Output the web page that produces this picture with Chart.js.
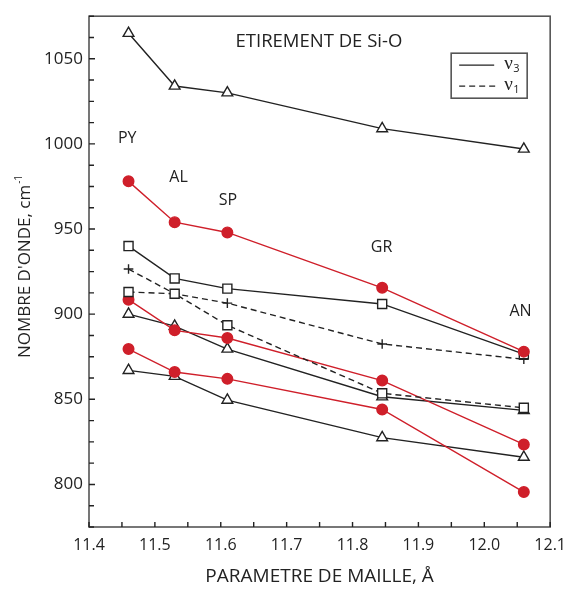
<!DOCTYPE html>
<html>
<head>
<meta charset="utf-8">
<script src="https://cdn.jsdelivr.net/npm/chart.js@4.4.1/dist/chart.umd.min.js"></script>
<style>
  html, body { margin: 0; padding: 0; background: #fff; }
</style>
</head>
<body>
<canvas id="garnetChart" width="575" height="590"></canvas>
<script>
// lattice parameter (A) of each garnet end-member
const cellParam = [11.46, 11.53, 11.61, 11.845, 12.06];
const garnetNames = ['PY', 'AL', 'SP', 'GR', 'AN'];

// wavenumbers (cm-1), PY -> AN
const triTop   = [1065, 1034, 1030, 1009, 997];
const redTop   = [978, 954, 948, 915.5, 878];
const sqSolid  = [940, 921, 915, 906, 876.5];
const plusDash = [926.5, 912, 906.5, 882.5, 873.5];
const sqDash   = [913, 912, 893.5, 853.5, 845];
const redMid   = [908.5, 890.5, 886, 861, 823.5];
const triMid   = [900, 893, 879.5, 851.5, 843.5];
const redLow   = [879.5, 866, 862, 844, 795.5];
const triLow   = [867, 863.5, 849.5, 827.5, 816];

// labelled axis ticks
const xTicks = [11.4, 11.5, 11.6, 11.7, 11.8, 11.9, 12.0, 12.1];
const yTicks = [800, 850, 900, 950, 1000, 1050];
// unlabelled inner tick marks
const xMinor = [11.45, 11.55, 11.65, 11.75, 11.85, 11.95, 12.05];
const yMinor = [775, 787.5, 812.5, 825, 837.5, 862.5, 875, 887.5, 912.5, 925, 937.5, 962.5,
                975, 987.5, 1012.5, 1025, 1037.5, 1062.5, 1075];

// where the end-member names sit (data coords)
const nameX = [11.458, 11.536, 11.611, 11.844, 12.055];
const nameY = [1003, 980.5, 967, 939, 901.5];

const BLACK = '#222';
const RED = '#cf1f2a';
const FONT = "'Open Sans', 'DejaVu Sans', sans-serif";

function toPoints(values) {
    return values.map((v, i) => ({ x: cellParam[i], y: v }));
}

function series(values, kind, dashed) {
    const isRed = kind === 'circle';
    const color = isRed ? RED : BLACK;
    const styles = { triangle: ['triangle', 6.2], rect: ['rect', 6.4], cross: ['cross', 4.8], circle: ['circle', 5.3] };
    return {
        data: toPoints(values),
        borderColor: color,
        borderWidth: 1.4,
        borderDash: dashed ? [6, 4] : [],
        pointStyle: styles[kind][0],
        pointRadius: styles[kind][1],
        pointBorderColor: color,
        pointBackgroundColor: isRed ? RED : '#fff',
        pointBorderWidth: 1.4,
        tension: 0,
        fill: false
    };
}

const axisDecor = {
    id: 'axisDecor',
    afterDraw(chart) {
        const ctx = chart.ctx;
        const a = chart.chartArea;
        const x = chart.scales.x, y = chart.scales.y;
        ctx.save();
        ctx.setLineDash([]);

        // frame
        ctx.strokeStyle = '#555';
        ctx.lineWidth = 1.6;
        ctx.strokeRect(a.left, a.top, a.right - a.left, a.bottom - a.top);

        // inner tick marks
        ctx.strokeStyle = BLACK;
        ctx.lineWidth = 1.4;
        ctx.beginPath();
        yTicks.forEach(v => {
            const py = y.getPixelForValue(v);
            ctx.moveTo(a.left, py);
            ctx.lineTo(a.left + 6, py);
        });
        yMinor.forEach(v => {
            const py = y.getPixelForValue(v);
            ctx.moveTo(a.left, py);
            ctx.lineTo(a.left + 5, py);
        });
        xTicks.concat(xMinor).forEach(v => {
            const px = x.getPixelForValue(v);
            ctx.moveTo(px, a.bottom);
            ctx.lineTo(px, a.bottom - 5);
        });
        ctx.stroke();

        // y axis title, with superscript
        ctx.fillStyle = BLACK;
        ctx.textBaseline = 'alphabetic';
        ctx.textAlign = 'left';
        ctx.font = '17px ' + FONT;
        const main = "NOMBRE D'ONDE, cm";
        const wMain = ctx.measureText(main).width;
        ctx.font = '10px ' + FONT;
        const wSup = ctx.measureText('-1').width;
        ctx.translate(30, 267);
        ctx.rotate(-Math.PI / 2);
        const start = -(wMain + wSup) / 2;
        ctx.font = '17px ' + FONT;
        ctx.fillText(main, start, 0);
        ctx.font = '10px ' + FONT;
        ctx.fillText('-1', start + wMain + 1, -8);
        ctx.setTransform(1, 0, 0, 1, 0, 0);

        // title + end-member names
        ctx.textAlign = 'center';
        ctx.textBaseline = 'middle';
        ctx.font = '18.5px ' + FONT;
        ctx.fillText('ETIREMENT DE Si-O', x.getPixelForValue(11.749), y.getPixelForValue(1060));
        ctx.font = '16px ' + FONT;
        garnetNames.forEach((n, i) => {
            ctx.fillText(n, x.getPixelForValue(nameX[i]), y.getPixelForValue(nameY[i]));
        });

        // legend
        const lx = a.right - 99, ly = a.top + 37;
        ctx.strokeStyle = '#555';
        ctx.lineWidth = 1.6;
        ctx.strokeRect(lx, ly, 76, 45);
        ctx.strokeStyle = BLACK;
        ctx.lineWidth = 1.3;
        ctx.beginPath();
        ctx.moveTo(lx + 8, ly + 12);
        ctx.lineTo(lx + 43, ly + 12);
        ctx.stroke();
        ctx.setLineDash([6, 4]);
        ctx.beginPath();
        ctx.moveTo(lx + 8, ly + 33);
        ctx.lineTo(lx + 45, ly + 33);
        ctx.stroke();
        ctx.setLineDash([]);
        ctx.textAlign = 'left';
        ctx.font = "19px 'Liberation Serif', serif";
        ctx.fillText('\u03bd', lx + 53, ly + 11);
        ctx.fillText('\u03bd', lx + 53, ly + 32);
        ctx.font = '11px ' + FONT;
        ctx.fillText('3', lx + 62, ly + 16);
        ctx.fillText('1', lx + 62, ly + 37);

        ctx.restore();
    }
};

new Chart(document.getElementById('garnetChart'), {
    type: 'line',
    data: {
        datasets: [
            series(triTop, 'triangle', false),
            series(redTop, 'circle', false),
            series(sqSolid, 'rect', false),
            series(sqDash, 'rect', true),
            series(plusDash, 'cross', true),
            series(redMid, 'circle', false),
            series(triMid, 'triangle', false),
            series(redLow, 'circle', false),
            series(triLow, 'triangle', false)
        ]
    },
    options: {
        responsive: false,
        devicePixelRatio: 1,
        animation: false,
        layout: { padding: { top: 11, right: 19, left: 0, bottom: 0 } },
        plugins: {
            legend: { display: false },
            tooltip: { enabled: false }
        },
        scales: {
            x: {
                type: 'linear',
                min: 11.4,
                max: 12.1,
                grid: { display: false, drawTicks: false },
                border: { display: false },
                afterBuildTicks: s => { s.ticks = xTicks.map(v => ({ value: v })); },
                afterFit: s => { s.height = 63; },
                ticks: {
                    padding: 9,
                    color: BLACK,
                    font: { family: FONT, size: 16 },
                    callback: v => Number(v).toFixed(1)
                },
                title: {
                    display: true,
                    text: 'PARAMETRE DE MAILLE, \u00c5',
                    color: BLACK,
                    font: { family: FONT, size: 19 },
                    padding: { top: 0, bottom: 2 }
                }
            },
            y: {
                min: 775,
                max: 1075,
                grid: { display: false, drawTicks: false },
                border: { display: false },
                afterBuildTicks: s => { s.ticks = yTicks.map(v => ({ value: v })); },
                afterFit: s => { s.width = 89; },
                ticks: {
                    padding: 6,
                    color: BLACK,
                    font: { family: FONT, size: 17 },
                    callback: v => String(v)
                },
                title: { display: false }
            }
        }
    },
    plugins: [axisDecor]
});
</script>
</body>
</html>
